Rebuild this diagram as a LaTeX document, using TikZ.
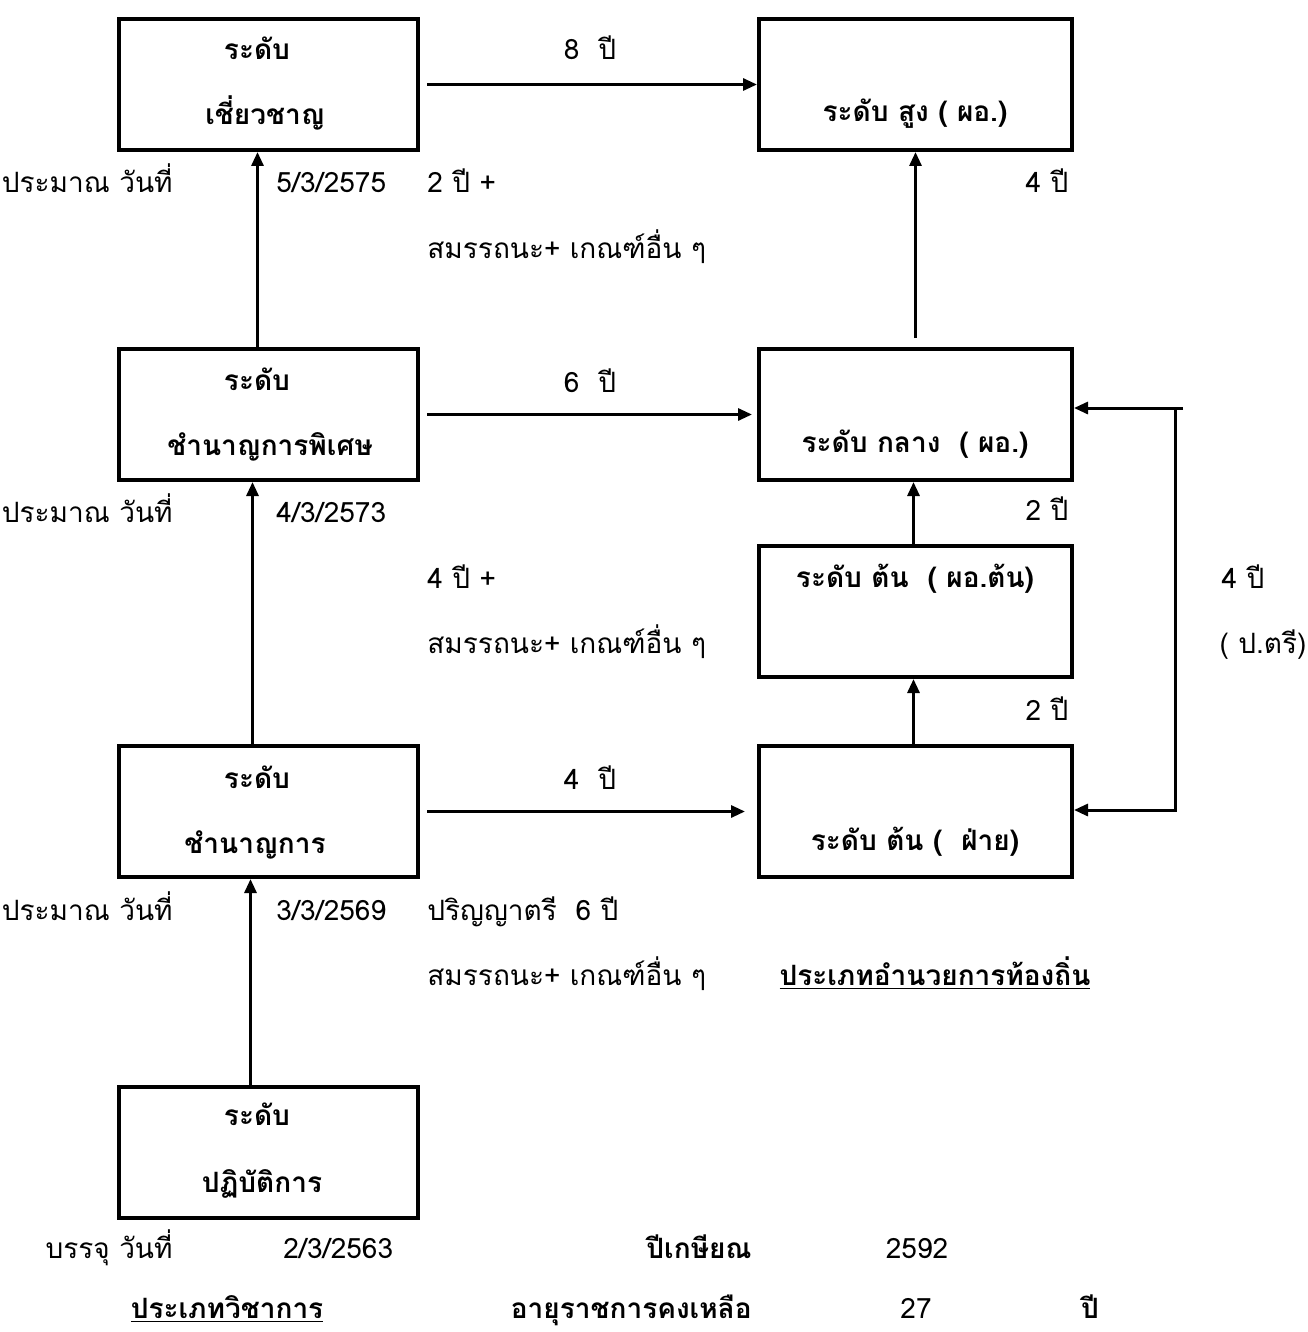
\documentclass[tikz,border=0pt]{standalone}
\usepackage{fontspec}
\setmainfont[Script=Thai]{Loma}
\usetikzlibrary{arrows.meta,calc}
\begin{document}
\begin{tikzpicture}[x=0.5pt,y=-0.5pt,
  box/.style={draw,line width=2pt,minimum width=149.5pt,minimum height=65.5pt,inner sep=0pt},
  wbox/.style={box,minimum width=156.5pt},
  arr/.style={line width=1.5pt,-{Triangle[length=7pt,width=6pt]}},
  txt/.style={inner sep=0pt,anchor=base,font=\fontsize{14pt}{16pt}\selectfont},
  btxt/.style={txt,font=\fontsize{14pt}{16pt}\selectfont\bfseries},
  txtl/.style={txt,anchor=base west},
  txtr/.style={txt,anchor=base east}]
\useasboundingbox (0,0) rectangle (1307,1332);
% boxes
\node[box] (b1) at (268.5,84.5) {};
\node[wbox] (b2) at (915.5,84.5) {};
\node[box] (b3) at (268.5,414.5) {};
\node[wbox] (b4) at (915.5,414.5) {};
\node[wbox] (b5) at (915.5,611.5) {};
\node[wbox] (b6) at (915.5,811.5) {};
\node[box] (b7) at (268.5,811.5) {};
\node[box] (b8) at (268.5,1152.5) {};
% box texts
\node[btxt] (t1a) at (257,60) {ระดับ};
\node[btxt] (t1b) at (265,125) {เชี่ยวชาญ};
\node[btxt] (t2) at (915,122) {ระดับ สูง ( ผอ.)};
\node[btxt] (t3a) at (257,390) {ระดับ};
\node[btxt] (t3b) at (270,455) {ชำนาญการพิเศษ};
\node[btxt] (t4) at (915,452) {ระดับ กลาง\ \ ( ผอ.)};
\node[btxt] (t5) at (915,587) {ระดับ ต้น\ \ ( ผอ.ต้น)};
\node[btxt] (t6) at (915,850) {ระดับ ต้น (\ \ ฝ่าย)};
\node[btxt] (t7a) at (257,788) {ระดับ};
\node[btxt] (t7b) at (255,853) {ชำนาญการ};
\node[btxt] (t8a) at (257,1125) {ระดับ};
\node[btxt] (t8b) at (262,1192) {ปฏิบัติการ};
% connectors
\draw[arr] ([xshift=3.5pt]b1.east) -- (b2.west);
\draw[arr] ([xshift=3.5pt]b3.east) -- ([xshift=-2.5pt]b4.west);
\draw[arr] ([xshift=3.5pt]b7.east) -- ([xshift=-6pt]b6.west);
\draw[arr] ([xshift=-5.5pt]b3.north) -- ([xshift=-5.5pt]b1.south);
\draw[arr] ([xshift=-8pt]b7.north) -- ([xshift=-8pt]b3.south);
\draw[arr] ([xshift=-9pt]b8.north) -- ([xshift=-9pt]b7.south);
\draw[arr] ([yshift=4.5pt]b4.north) -- (b2.south);
\draw[arr] ([xshift=-1pt]b5.north) -- ([xshift=-1pt]b4.south);
\draw[arr] ([xshift=-1pt]b6.north) -- ([xshift=-1pt]b5.south);
\coordinate (c1) at (1183,408);
\coordinate (c2) at (1175,408);
\coordinate (c3) at (1175,810);
\draw[arr] (c1) -- (b4.east |- c1);
\draw[arr] (c2) -- (c3) -- (b6.east |- c3);
% labels
\node[txt] (l1) at (590,60) {8\ \ ปี};
\node[txt] (l2) at (590,392) {6\ \ ปี};
\node[txt] (l3) at (590,789) {4\ \ ปี};
\node[txtr] (p1) at (173,193) {ประมาณ วันที่};
\node[txtl] (d1) at (276,193) {5/3/2575};
\node[txtl] (q1) at (427,193) {2 ปี +};
\node[txtl] (s1) at (427,258) {สมรรถนะ+ เกณฑ์อื่น ๆ};
\node[txt] (r1) at (1047,193) {4 ปี};
\node[txtr] (p2) at (173,522) {ประมาณ วันที่};
\node[txtl] (d2) at (276,522) {4/3/2573};
\node[txt] (r2) at (1047,520) {2 ปี};
\node[txtl] (q2) at (427,588) {4 ปี +};
\node[txt] (r4) at (1243,588) {4 ปี};
\node[txtl] (s2) at (427,653) {สมรรถนะ+ เกณฑ์อื่น ๆ};
\node[txt] (r5) at (1263,653) {( ป.ตรี)};
\node[txt] (r3) at (1047,720) {2 ปี};
\node[txtr] (p3) at (173,920) {ประมาณ วันที่};
\node[txtl] (d3) at (276,920) {3/3/2569};
\node[txtl] (q3) at (427,920) {ปริญญาตรี\ \ 6 ปี};
\node[txtl] (s3) at (427,985) {สมรรถนะ+ เกณฑ์อื่น ๆ};
\node[btxt] (h1) at (935,985) {\underline{ประเภทอำนวยการท้องถิ่น}};
\node[txtr] (p4) at (173,1258) {บรรจุ วันที่};
\node[txtl] (d4) at (283,1258) {2/3/2563};
\node[btxt,anchor=base east] (k1) at (752,1258) {ปีเกษียณ};
\node[txt] (k2) at (917,1258) {2592};
\node[btxt] (h2) at (227,1318) {\underline{ประเภทวิชาการ}};
\node[btxt,anchor=base east] (k3) at (752,1318) {อายุราชการคงเหลือ};
\node[txt] (k4) at (916,1318) {27};
\node[btxt] (k5) at (1090,1318) {ปี};
\end{tikzpicture}
\end{document}
